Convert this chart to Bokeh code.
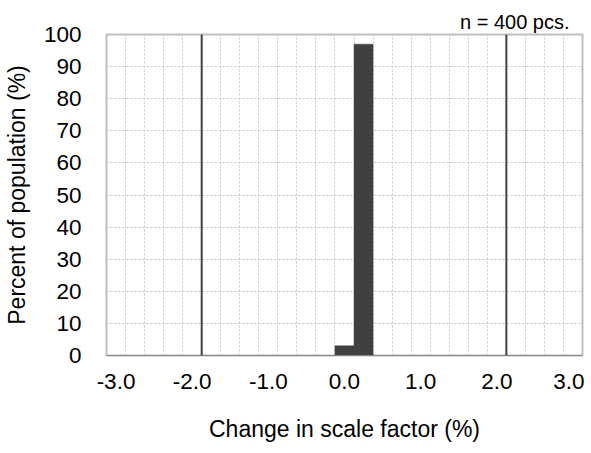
from bokeh.plotting import figure
from bokeh.models import Range1d, FixedTicker, NumeralTickFormatter, Span, ColumnDataSource
from bokeh.embed import file_html
from bokeh.resources import INLINE

# Data: histogram bins (bin centres, % change) and percent of population
bin_centers = [-3.0, -2.75, -2.5, -2.25, -2.0, -1.75, -1.5, -1.25, -1.0, -0.75, -0.5, -0.25,
               0.0, 0.25, 0.5, 0.75, 1.0, 1.25, 1.5, 1.75, 2.0, 2.25, 2.5, 2.75, 3.0]
percent = [0, 0, 0, 0, 0, 0, 0, 0, 0, 0, 0, 0,
           3, 97, 0, 0, 0, 0, 0, 0, 0, 0, 0, 0, 0]
bin_width = 0.25
x_ticks = [-3.0, -2.0, -1.0, 0.0, 1.0, 2.0, 3.0]
y_ticks = [0, 10, 20, 30, 40, 50, 60, 70, 80, 90, 100]
limit_lines = [-1.875, 2.125]
sample_note = "n = 400 pcs."
x_title = "Change in scale factor (%)"
y_title = "Percent of population (%)"

FONT = "Liberation Sans"

x_lo = bin_centers[0] - bin_width / 2
x_hi = bin_centers[-1] + bin_width / 2

p = figure(width=584, height=453, output_backend="svg", toolbar_location=None,
           x_range=Range1d(x_lo, x_hi), y_range=Range1d(0, 100),
           min_border_left=101, min_border_right=2, min_border_top=34, min_border_bottom=98)
p.background_fill_color = "white"
p.border_fill_color = "white"
p.outline_line_color = "#bfbfbf"
p.outline_line_width = 2

# title used as the sample-size note (top right, outside the frame)
p.title.text = sample_note
p.title.align = "right"
p.title.offset = 13
p.title.standoff = 3
p.title.text_font = FONT
p.title.text_font_size = "20px"
p.title.text_font_style = "normal"
p.title.text_color = "#000000"

# grids
p.xgrid.ticker = FixedTicker(ticks=[c - bin_width / 2 for c in bin_centers] + [x_hi])
p.xgrid.grid_line_color = "#c8c8c8"
p.xgrid.grid_line_dash = "2 2"
p.xgrid.grid_line_width = 1
p.ygrid.ticker = FixedTicker(ticks=y_ticks)
p.ygrid.grid_line_color = "#c8c8c8"
p.ygrid.grid_line_dash = "2 2"
p.ygrid.grid_line_width = 1

src = ColumnDataSource(dict(x=bin_centers, top=percent))
p.vbar(x="x", top="top", width=bin_width, source=src, fill_color="#404040", line_color="#404040", line_width=0.5)

for lx in limit_lines:
    p.add_layout(Span(location=lx, dimension="height", line_color="#404040", line_width=2))

# axes
for ax in (p.xaxis[0], p.yaxis[0]):
    ax.axis_line_color = None
    ax.major_tick_line_color = None
    ax.minor_tick_line_color = None
    ax.major_label_text_font = FONT
    ax.major_label_text_font_size = "22.5px"
    ax.major_label_text_color = "#000000"
    ax.axis_label_text_font = FONT
    ax.axis_label_text_font_size = "23px"
    ax.axis_label_text_font_style = "normal"
    ax.axis_label_text_color = "#000000"

p.xaxis.ticker = FixedTicker(ticks=x_ticks)
p.xaxis.formatter = NumeralTickFormatter(format="0.0")
p.xaxis.major_label_standoff = 12
p.xaxis.axis_label = x_title
p.xaxis.axis_label_standoff = 24

p.yaxis.ticker = FixedTicker(ticks=y_ticks)
p.yaxis.major_label_standoff = 19
p.yaxis.axis_label = y_title
p.yaxis.axis_label_standoff = 11

open("out.html", "w").write(file_html(p, INLINE))
